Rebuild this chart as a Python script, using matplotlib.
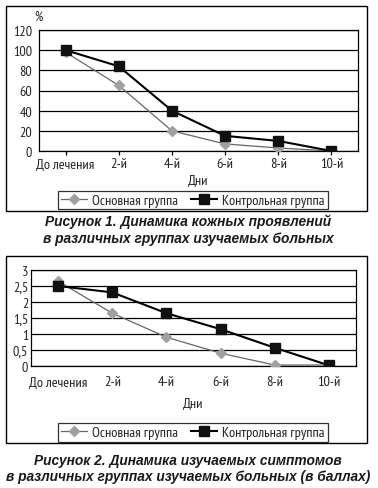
import matplotlib
matplotlib.use("Agg")
import matplotlib.pyplot as plt
from matplotlib import font_manager
from matplotlib.patches import Rectangle
from matplotlib.ticker import FuncFormatter

categories = ["До лечения", "2-й", "4-й", "6-й", "8-й", "10-й"]
series_names = ["Основная группа", "Контрольная группа"]
fig1_main = [98, 65, 20, 7, 3, 0]
fig1_ctrl = [100, 84, 40, 15, 10, 0]
fig2_main = [2.65, 1.65, 0.9, 0.4, 0.03, 0.03]
fig2_ctrl = [2.5, 2.3, 1.65, 1.15, 0.57, 0.02]
fig1_yticks = [0, 20, 40, 60, 80, 100, 120]
fig2_yticks = [0, 0.5, 1, 1.5, 2, 2.5, 3]
caption1 = ["Рисунок 1. Динамика кожных проявлений", "в различных группах изучаемых больных"]
caption2 = ["Рисунок 2. Динамика изучаемых симптомов", "в различных группах изучаемых больных (в баллах)"]


def has_cyrillic(fname):
    try:
        ft = font_manager.get_font(fname)
        return all(ft.get_char_index(ord(ch)) != 0 for ch in "ДКОйя")
    except Exception:
        return False


cands = []
for f in font_manager.fontManager.ttflist:
    n = f.name.lower()
    fn = f.fname.lower()
    if f.style != "normal" or "bold" in fn or "oblique" in fn or "italic" in fn:
        continue
    if "narrow" in n or "narrow" in fn or "condensed" in fn or "condensed" in n:
        if has_cyrillic(f.fname):
            pri = 0 if "narrow" in fn else (1 if "dejavu" in fn else 2)
            cands.append((pri, f.fname))
cands.sort()
if cands:
    fp_narrow = font_manager.FontProperties(fname=cands[0][1])
    base_size = 10.4
    tick_size = 10.2
else:
    fp_narrow = font_manager.FontProperties(family="Liberation Sans")
    base_size = 8
    tick_size = 8.5

W, H = 378, 489
fig = plt.figure(figsize=(W / 100, H / 100), dpi=100)
fig.patch.set_facecolor("white")


def fp(size):
    p = fp_narrow.copy()
    p.set_size(size)
    return p


def fx(x):
    return x / W


def fy(y):
    return 1 - y / H


def add_frame(x0, y0, x1, y1):
    fig.patches.append(Rectangle((fx(x0), fy(y1)), fx(x1 - x0), (y1 - y0) / H,
                                 transform=fig.transFigure, fill=False,
                                 edgecolor="black", linewidth=1.0))


def make_chart(px0, py0, px1, py1, main, ctrl, yticks, fmt, ticks, lab_y, dni_y, leg_y, caption, cap_y, pct=False, ylabpad=4):
    ax = fig.add_axes([fx(px0), fy(py1), fx(px1 - px0), (py1 - py0) / H])
    x = list(range(len(categories)))
    ax.plot(x, main, color="#666666", lw=0.9, marker="D", ms=4.8,
            mfc="#a0a0a0", mec="#a0a0a0", label=series_names[0], zorder=3)
    ax.plot(x, ctrl, color="black", lw=1.5, marker="s", ms=7,
            mfc="#111111", mec="#111111", label=series_names[1], zorder=4)
    ax.set_xlim(-0.5, len(categories) - 0.5)
    ax.set_ylim(yticks[0], yticks[-1])
    ax.set_yticks(yticks)
    ax.yaxis.set_major_formatter(FuncFormatter(fmt))
    ax.grid(axis="y", color="black", lw=0.9)
    ax.set_axisbelow(True)
    for s in ax.spines.values():
        s.set_linewidth(0.9)
    ax.tick_params(axis="y", length=0, pad=ylabpad, colors="#222222")
    for t in ax.get_yticklabels():
        t.set_fontproperties(fp(tick_size))
    ax.set_xticks(x)
    ax.set_xticklabels([])
    if ticks:
        ax.tick_params(axis="x", length=3, width=0.9, direction="out")
    else:
        ax.tick_params(axis="x", length=0)
    for i, c in enumerate(categories):
        fig.text(fx(px0 + (px1 - px0) * (i + 0.5) / len(categories)), fy(lab_y), c,
                 ha="center", va="center", fontproperties=fp(base_size), color="#222222")
    fig.text(fx((px0 + px1) / 2), fy(dni_y), "Дни", ha="center", va="center",
             fontproperties=fp(base_size), color="#222222")
    if pct:
        fig.text(fx(38), fy(17), "%", ha="center", va="center", fontproperties=fp(base_size - 1), color="#222222")
    h, l = ax.get_legend_handles_labels()
    leg = fig.legend(h, l, loc="center", bbox_to_anchor=(fx(193), fy(leg_y)),
                     ncol=2, frameon=True, fancybox=False, edgecolor="black",
                     prop=fp(base_size), handlelength=1.8, columnspacing=0.9,
                     borderpad=0.2, handletextpad=0.35, borderaxespad=0)
    leg.get_frame().set_linewidth(0.9)
    for t in leg.get_texts():
        t.set_color("#222222")
    for i, line in enumerate(caption):
        fig.text(fx(188), fy(cap_y + i * 16.5), line, ha="center", va="center",
                 fontsize=9.9, fontweight="bold", fontstyle="italic",
                 family=["Liberation Sans", "DejaVu Sans"], color="#1a1a1a")
    return ax


add_frame(6, 7, 367, 212)
add_frame(6, 257, 367, 444)

make_chart(39, 31, 358, 152, fig1_main, fig1_ctrl, fig1_yticks,
           lambda v, p: f"{int(v)}", True, 165, 181, 201, caption1, 222, pct=True, ylabpad=5)
make_chart(31, 271, 356, 367, fig2_main, fig2_ctrl, fig2_yticks,
           lambda v, p: (f"{v:g}").replace(".", ","), False, 383, 404, 433.5, caption2, 461, ylabpad=2)

fig.savefig("out.png", dpi=100)
